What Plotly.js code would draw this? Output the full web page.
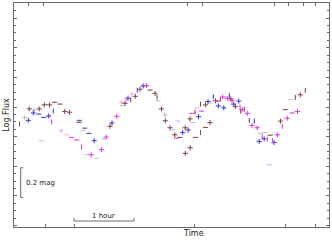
<!DOCTYPE html>
<html><head><meta charset="utf-8">
<script src="https://cdn.plot.ly/plotly-3.0.1.min.js"></script>
<style>html,body{margin:0;padding:0;background:#fff}#chart{width:332px;height:241px}</style>
</head><body><div id="chart"></div>
<script>
// Time in minutes from start, log flux (dex, arbitrary zero), kind: c = cross, h = time error only, v = flux error only
const brownT = [5.5,15.3,25.2,30.3,35.5,40.5,46.0,50.7,55.5,65.5,70.8,96.0,111.0,116.7,121.3,126.0,136.0,141.0,143.0,147.5,151.3,156.0,160.8,166.0,171.2,171.3,176.0,176.2,181.0,181.5,186.5,186.5,191.5,191.5,196.0,201.5,206.3,216.7,221.3,226.7,230.3,256.2,266.5,271.3,281.3,286.3,291.3];
const brownF = [0.274,0.315,0.315,0.326,0.326,0.333,0.328,0.308,0.306,0.284,0.263,0.268,0.330,0.339,0.349,0.368,0.366,0.357,0.347,0.315,0.283,0.264,0.245,0.238,0.264,0.195,0.288,0.210,0.306,0.238,0.328,0.251,0.326,0.265,0.278,0.337,0.341,0.342,0.321,0.309,0.314,0.244,0.282,0.313,0.346,0.353,0.365];
const brownK = ['v','c','c','c','c','h','h','c','c','h','h','c','c','v','c','c','h','c','v','c','c','c','c','h','c','c','c','c','v','h','v','v','c','h','c','c','v','c','c','v','v','h','c','h','v','c','v'];

const brownLightT = [10.7,20.2,151.0,196.0,211.3,246.2,251.0,276.3];
const brownLightF = [0.292,0.312,0.299,0.331,0.347,0.249,0.251,0.340];
const brownLightK = ['c','c','c','h','h','h','h','h'];

const blueT = [14.3,19.3,24.8,29.7,34.7,39.3,65.0,74.8,80.2,98.0,114.0,123.3,129.2,168.7,174.2,184.5,194.0,199.3,204.3,209.8,215.3,219.7,224.8,235.3,240.3,245.2,250.2,260.0];
const blueF = [0.284,0.304,0.301,0.292,0.296,0.309,0.279,0.249,0.229,0.277,0.344,0.365,0.377,0.251,0.258,0.294,0.335,0.348,0.323,0.318,0.351,0.328,0.336,0.284,0.282,0.227,0.234,0.224];
const blueK = ['c','c','h','h','c','v','h','h','c','c','c','v','c','c','c','c','c','v','c','c','v','c','c','v','v','c','c','c'];

const blueLightT = [69.0,90.2,108.3,144.0,158.8,164.0,179.3,255.3];
const blueLightF = [0.257,0.234,0.324,0.337,0.258,0.282,0.278,0.164];
const blueLightK = ['h','h','h','h','h','h','h','h'];

const magentaT = [37.7,57.5,62.7,67.5,77.2,87.5,92.2,102.7,132.5,162.7,177.7,187.7,203.3,208.7,213.7,218.0,226.0,228.3,233.3,238.0,243.2,248.2,253.3,258.5,263.3,268.3,273.2,278.2,283.5];
const magentaF = [0.280,0.238,0.231,0.212,0.191,0.205,0.239,0.295,0.378,0.236,0.303,0.309,0.336,0.347,0.343,0.338,0.320,0.313,0.303,0.270,0.264,0.240,0.233,0.229,0.245,0.268,0.290,0.304,0.308];
const magentaK = ['v','h','h','v','c','c','c','c','c','h','h','h','h','c','c','c','v','c','c','c','c','v','v','v','c','v','c','h','c'];

const magentaLightT = [27.3,47.3,52.7,72.5,82.5,107.3,112.5,118.0,182.8];
const magentaLightF = [0.229,0.256,0.245,0.192,0.181,0.333,0.340,0.355,0.318];
const magentaLightK = ['h','c','h','h','h','c','c','c','h'];

const xTicksBottom = [31.7,60,180.7,271.5,301.7];
const xTicksTop = [14.3,29.3,173.7,188.7,260,274.7,289,301];

const EX = 2.6;   // minutes
const EY = 0.0068; // dex

function series(t, f, k, color) {
  return {
    type: 'scatter', mode: 'markers', x: t, y: f, hoverinfo: 'skip', showlegend: false,
    marker: {size: 1, color: color},
    error_x: {type: 'data', array: k.map(s => (s === 'v' ? 0 : EX)), visible: true, width: 0, thickness: 1, color: color},
    error_y: {type: 'data', array: k.map(s => (s === 'h' ? 0 : EY)), visible: true, width: 0, thickness: 1, color: color}
  };
}

const frame = '#6a6a6a';
const traces = [
  series(brownLightT, brownLightF, brownLightK, 'rgba(140,80,80,0.35)'),
  series(blueLightT, blueLightF, blueLightK, 'rgba(70,70,230,0.35)'),
  series(magentaLightT, magentaLightF, magentaLightK, 'rgba(220,60,220,0.35)'),
  series(brownT, brownF, brownK, 'rgb(130,70,70)'),
  series(blueT, blueF, blueK, 'rgb(60,60,230)'),
  series(magentaT, magentaF, magentaK, 'rgb(222,60,222)'),
  // scale bars: 0.2 mag (0.08 dex) and 1 hour
  {type: 'scatter', mode: 'lines', xaxis: 'x2', hoverinfo: 'skip', showlegend: false,
   x: [9.2, 6.7, 6.7, 9.2, null, 60, 60, 120, 120],
   y: [0.156, 0.156, 0.076, 0.076, null, 0.0205, 0.0122, 0.0122, 0.0205],
   line: {color: frame, width: 1}}
];

const layout = {
  width: 332, height: 241,
  margin: {l: 14, r: 3, t: 3, b: 14},
  paper_bgcolor: '#fff', plot_bgcolor: '#fff',
  font: {family: 'DejaVu Sans', size: 7.5, color: '#222'},
  xaxis: {range: [0, 315], showgrid: false, zeroline: false, showline: true, linecolor: frame, linewidth: 1,
          ticks: 'inside', ticklen: 3, tickcolor: frame, tickvals: xTicksBottom, showticklabels: false, mirror: false},
  xaxis2: {matches: 'x', overlaying: 'x', side: 'top', showgrid: false, zeroline: false, showline: true, linecolor: frame, linewidth: 1,
           ticks: 'inside', ticklen: 3, tickcolor: frame, tickvals: xTicksTop, showticklabels: false},
  yaxis: {range: [-0.004, 0.601], showgrid: false, zeroline: false, showline: true, linecolor: frame, linewidth: 1, mirror: 'ticks',
          ticks: 'inside', ticklen: 3, tickcolor: frame, tick0: 0, dtick: 0.08, showticklabels: false,
          minor: {ticks: 'inside', ticklen: 2, tickcolor: frame, dtick: 0.02, showgrid: false}},
  annotations: [
    {text: 'Log Flux', xref: 'paper', yref: 'paper', x: -0.024, y: 0.503, xanchor: 'center', yanchor: 'middle', textangle: -90, showarrow: false, font: {size: 8}},
    {text: 'Time', xref: 'paper', yref: 'paper', x: 0.571, y: -0.03, xanchor: 'center', yanchor: 'middle', showarrow: false, font: {size: 8}},
    {text: '0.2 mag', xref: 'x', yref: 'y', x: 10, y: 0.116, xanchor: 'left', yanchor: 'middle', showarrow: false, font: {size: 7}},
    {text: '1 hour', xref: 'x', yref: 'y', x: 89, y: 0.027, xanchor: 'center', yanchor: 'middle', showarrow: false, font: {size: 7}}
  ]
};

Plotly.newPlot('chart', traces, layout, {staticPlot: true, displayModeBar: false});
</script>
</body></html>
